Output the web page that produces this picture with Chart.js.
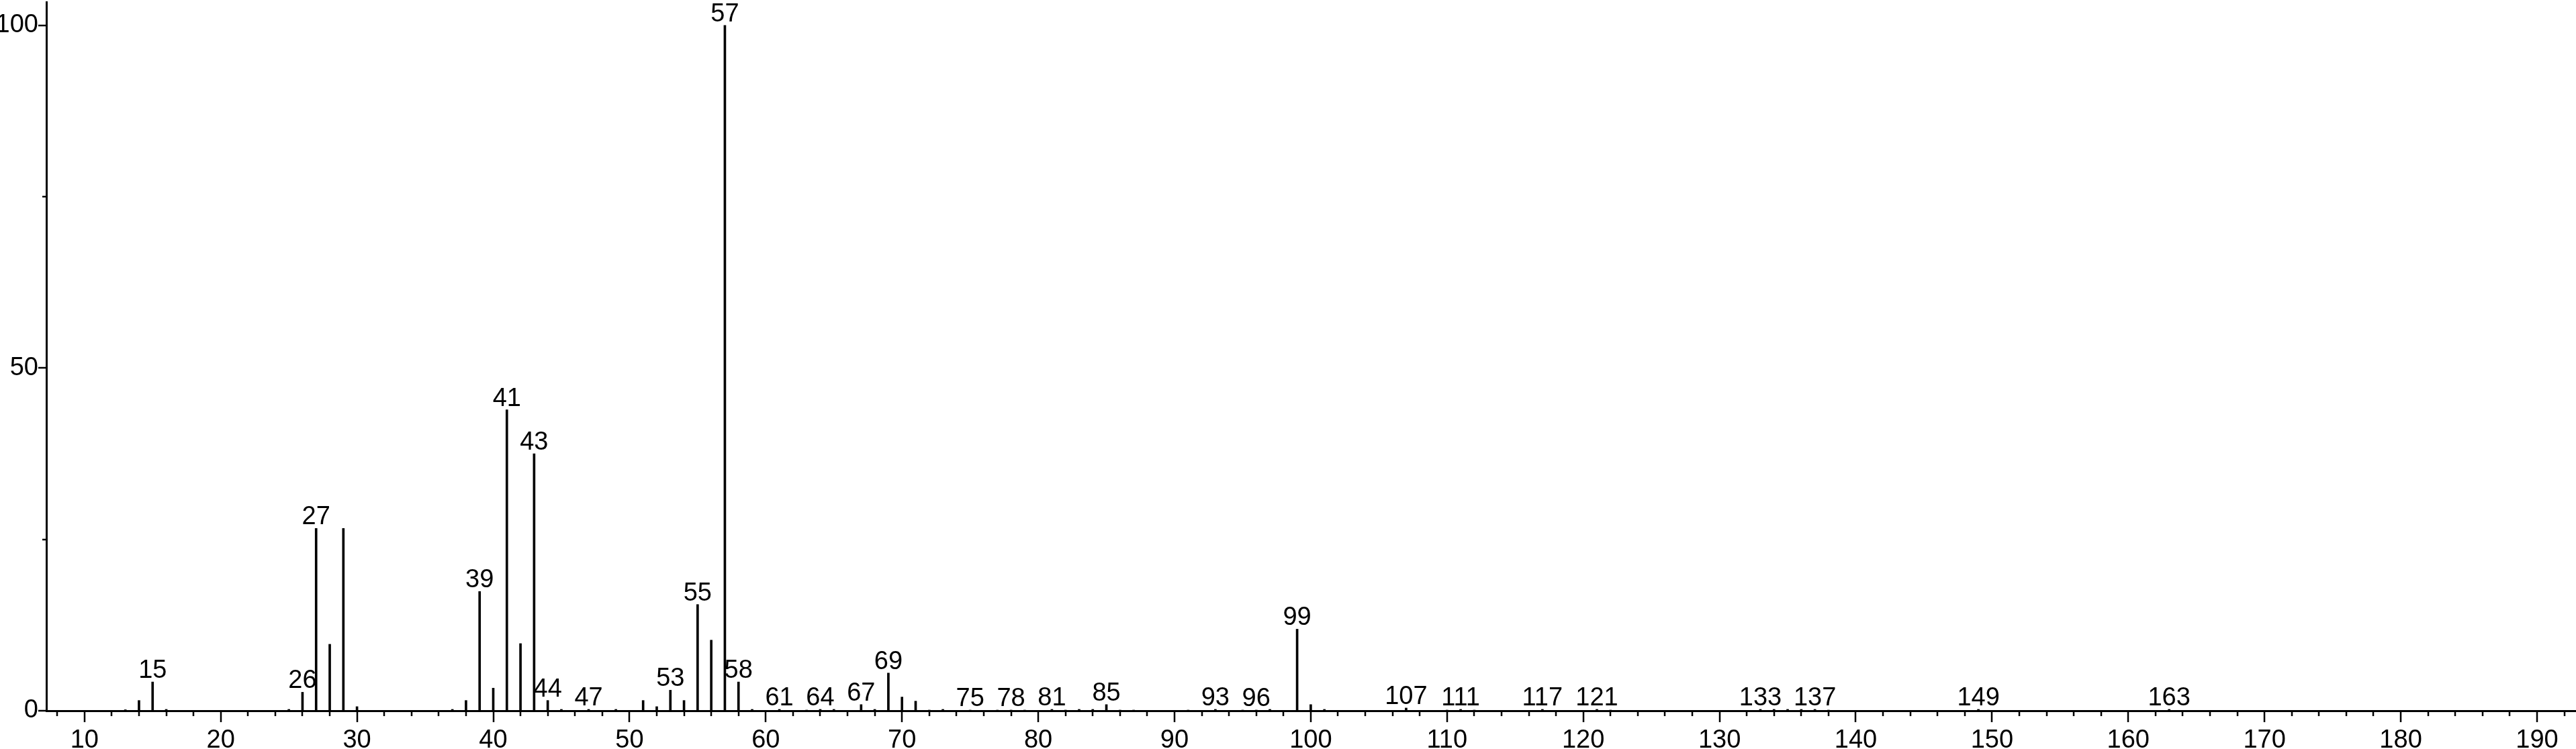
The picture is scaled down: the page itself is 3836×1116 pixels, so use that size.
<!DOCTYPE html>
<html>
<head>
<meta charset="utf-8">
<script src="https://cdn.jsdelivr.net/npm/chart.js@4.4.1/dist/chart.umd.min.js"></script>
<style>
    html, body { margin: 0; padding: 0; background: #fff; }
    #wrap { width: 3836px; height: 1116px; }
</style>
</head>
<body>
<div id="wrap"><canvas id="spectrum"></canvas></div>
<script>
// m/z values and relative abundances
const masses = [13, 14, 15, 16, 25, 26, 27, 28, 29, 30,
    37, 38, 39, 40, 41, 42, 43, 44, 45, 47,
    49, 51, 52, 53, 54, 55, 56, 57, 58, 59,
    61, 63, 64, 65, 67, 68, 69, 70, 71, 72,
    73, 75, 77, 78, 79, 81, 82, 83, 84, 85,
    86, 87, 91, 93, 95, 96, 97, 99, 100, 101,
    107, 110, 111, 112, 117, 121, 122, 133, 134, 135,
    136, 137, 138, 149, 163];
const intensities = [0.15, 1.5, 4.2, 0.2, 0.2, 2.7, 26.6, 9.7, 26.6, 0.6,
    0.2, 1.5, 17.4, 3.3, 43.9, 9.8, 37.5, 1.5, 0.2, 0.2,
    0.2, 1.5, 0.6, 3.0, 1.5, 15.5, 10.3, 100, 4.2, 0.2,
    0.2, 0.1, 0.2, 0.2, 0.9, 0.2, 5.5, 2.0, 1.4, 0.1,
    0.2, 0.1, 0.1, 0.1, 0.1, 0.2, 0.1, 0.2, 0.2, 0.9,
    0.1, 0.1, 0.1, 0.2, 0.1, 0.1, 0.2, 11.9, 0.9, 0.2,
    0.4, 0.1, 0.2, 0.1, 0.2, 0.2, 0.1, 0.2, 0.2, 0.2,
    0.2, 0.2, 0.1, 0.2, 0.2];
// peaks that carry a m/z label
const labeledMasses = [15, 26, 27, 39, 41, 43, 44, 47, 53, 55, 57, 58, 61, 64, 67,
    69, 75, 78, 81, 85, 93, 96, 99, 107, 111, 117, 121, 133, 137, 149, 163];
const xTickLabels = [10, 20, 30, 40, 50, 60, 70, 80, 90, 100,
    110, 120, 130, 140, 150, 160, 170, 180, 190];
const yTickLabels = [0, 50, 100];

const FAMILY = '"Liberation Sans Narrow", "Arial Narrow", "Liberation Sans", Arial, sans-serif';
const FONT = '38px ' + FAMILY;

// tick marks: long every 10 (x) / 50 (y), short every 2 (x) / 25 (y)
const tickMarks = {
    id: 'tickMarks',
    afterDraw(chart) {
        const ctx = chart.ctx;
        const x = chart.scales.x, y = chart.scales.y;
        const base = y.getPixelForValue(0);
        const left = chart.chartArea.left;
        ctx.save();
        ctx.strokeStyle = '#000';
        ctx.lineWidth = 2.5;
        ctx.beginPath();
        for (let v = Math.ceil(x.min / 2) * 2; v <= x.max; v += 2) {
            const px = Math.round(x.getPixelForValue(v));
            const len = xTickLabels.includes(v) ? 17 : 8;
            ctx.moveTo(px, base);
            ctx.lineTo(px, base + len);
        }
        for (let v = 0; v <= 100; v += 25) {
            const py = Math.round(y.getPixelForValue(v));
            const len = yTickLabels.includes(v) ? 12 : 6;
            ctx.moveTo(left - len, py);
            ctx.lineTo(left, py);
        }
        ctx.stroke();
        ctx.restore();
    }
};

// m/z labels above the labeled peaks
const peakLabels = {
    id: 'peakLabels',
    afterDatasetsDraw(chart) {
        const ctx = chart.ctx;
        const x = chart.scales.x, y = chart.scales.y;
        ctx.save();
        ctx.font = FONT;
        ctx.fillStyle = '#000';
        ctx.textAlign = 'center';
        ctx.textBaseline = 'alphabetic';
        labeledMasses.forEach(m => {
            const val = intensities[masses.indexOf(m)];
            ctx.fillText(String(m), x.getPixelForValue(m), y.getPixelForValue(val) - 6);
        });
        ctx.restore();
    }
};

new Chart(document.getElementById('spectrum'), {
    type: 'bar',
    data: {
        datasets: [{
            data: masses.map((m, i) => ({ x: m, y: intensities[i] })),
            backgroundColor: '#000',
            borderWidth: 0,
            barThickness: 3
        }]
    },
    options: {
        responsive: true,
        maintainAspectRatio: false,
        animation: false,
        devicePixelRatio: 1,
        layout: { padding: { top: 3, right: 0, bottom: 0, left: 0 } },
        plugins: {
            legend: { display: false },
            tooltip: { enabled: false }
        },
        scales: {
            x: {
                type: 'linear',
                min: 7.2,
                max: 192.86,
                offset: false,
                grid: { display: false, drawTicks: false },
                border: { display: true, color: '#000', width: 3 },
                ticks: {
                    stepSize: 10,
                    includeBounds: false,
                    autoSkip: false,
                    maxRotation: 0,
                    padding: 22,
                    color: '#000',
                    font: { family: FAMILY, size: 38 },
                    callback: v => xTickLabels.includes(v) ? String(v) : ''
                },
                afterFit(scale) {
                    scale.height = 57;
                    scale.paddingLeft = 0;
                    scale.paddingRight = 0;
                }
            },
            y: {
                type: 'linear',
                min: 0,
                max: 103.4,
                grid: { display: false, drawTicks: false },
                border: { display: true, color: '#000', width: 3 },
                ticks: {
                    stepSize: 50,
                    includeBounds: false,
                    padding: 12,
                    color: '#000',
                    font: { family: FAMILY, size: 38 },
                    callback: v => yTickLabels.includes(v) ? String(v) : ''
                },
                afterFit(scale) {
                    scale.width = 69;
                    scale.paddingTop = 0;
                    scale.paddingBottom = 0;
                }
            }
        }
    },
    plugins: [tickMarks, peakLabels]
});
</script>
</body>
</html>
